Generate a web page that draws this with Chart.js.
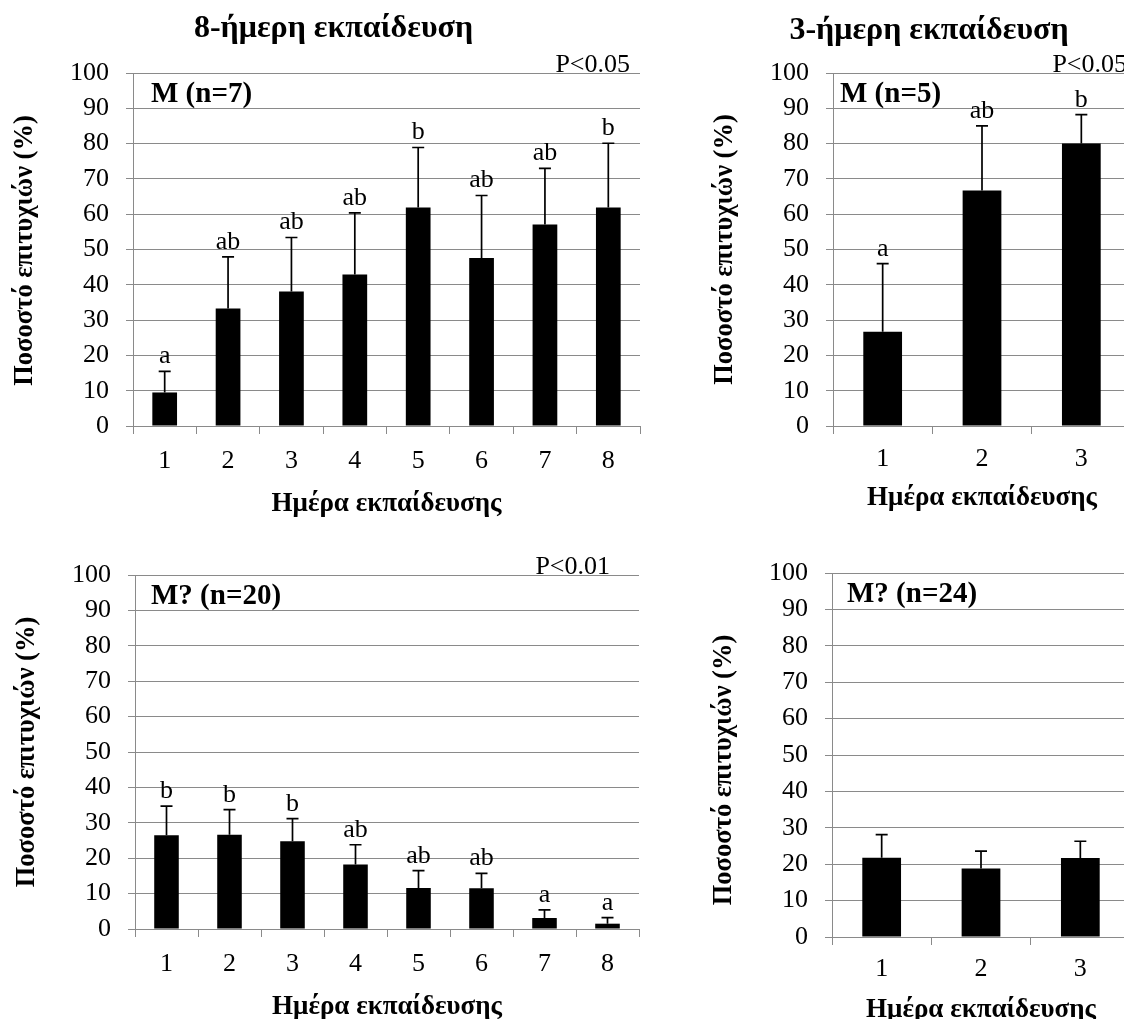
<!DOCTYPE html>
<html>
<head>
<meta charset="utf-8">
<script src="https://cdn.jsdelivr.net/npm/chart.js@4.4.1/dist/chart.umd.min.js"></script>
<style>
  html, body { margin: 0; padding: 0; background: #fff; overflow: hidden; width: 1124px; height: 1019px; }
  canvas { position: absolute; }
</style>
</head>
<body>
<canvas id="c8m"  width="680" height="530" style="left:0;top:0"></canvas>
<canvas id="c3m"  width="470" height="530" style="left:680px;top:0"></canvas>
<canvas id="c8q"  width="680" height="489" style="left:0;top:530px"></canvas>
<canvas id="c3q"  width="470" height="489" style="left:680px;top:530px"></canvas>
<script>
/* ── Data ─────────────────────────────────────────────────── */
const days8 = ['1', '2', '3', '4', '5', '6', '7', '8'];
const days3 = ['1', '2', '3'];
const yTicks = [0, 10, 20, 30, 40, 50, 60, 70, 80, 90, 100];

const m8Mean    = [9.5, 33.3, 38.1, 42.9, 61.9, 47.6, 57.1, 61.9];
const m8Sd      = [6.0, 14.6, 15.3, 17.5, 17.0, 17.7, 15.9, 18.2];
const m8Letters = ['a', 'ab', 'ab', 'ab', 'b', 'ab', 'ab', 'b'];

const m3Mean    = [26.7, 66.7, 80.0];
const m3Sd      = [19.3, 18.3, 8.2];
const m3Letters = ['a', 'ab', 'b'];

const q8Mean    = [26.5, 26.6, 24.8, 18.2, 11.6, 11.5, 3.1, 1.5];
const q8Sd      = [8.2, 7.1, 6.4, 5.6, 4.9, 4.2, 2.3, 1.7];
const q8Letters = ['b', 'b', 'b', 'ab', 'ab', 'ab', 'a', 'a'];

const q3Mean    = [21.8, 18.8, 21.7];
const q3Sd      = [6.3, 4.8, 4.6];

const yTitle = 'Ποσοστό επιτυχιών (%)';
const xTitle = 'Ημέρα εκπαίδευσης';

const FONT = '"Liberation Serif", "Times New Roman", serif';
const GRID = '#8a8a8a';

/* ── Error bars, letters and all the loose text ───────────── */
const decorPlugin = {
  id: 'decor',
  afterDatasetsDraw(chart, args, o) {
    const { ctx, chartArea: a, scales: { x, y } } = chart;
    ctx.save();
    ctx.fillStyle = '#000';
    ctx.strokeStyle = '#000';
    ctx.lineWidth = 1.7;

    o.means.forEach((m, i) => {
      const px = x.getPixelForValue(i);
      const y0 = y.getPixelForValue(m);
      const y1 = y.getPixelForValue(m + o.sds[i]);
      ctx.beginPath();
      ctx.moveTo(px, y0); ctx.lineTo(px, y1);
      ctx.moveTo(px - 6, y1); ctx.lineTo(px + 6, y1);
      ctx.stroke();
      if (o.letters) {
        ctx.font = `26px ${FONT}`;
        ctx.textAlign = 'center';
        ctx.textBaseline = 'alphabetic';
        ctx.fillText(o.letters[i], px, y1 - 8);
      }
    });

    const cx = (a.left + a.right) / 2;
    ctx.textBaseline = 'alphabetic';

    if (o.title) {
      ctx.font = `bold 32px ${FONT}`;
      ctx.textAlign = 'center';
      ctx.fillText(o.title, cx - 53, o.titleY);
    }
    if (o.pText) {
      ctx.font = `26px ${FONT}`;
      ctx.textAlign = 'right';
      ctx.fillText(o.pText, o.pRight, a.top - 1);
    }

    ctx.font = `bold 29px ${FONT}`;
    ctx.textAlign = 'left';
    ctx.fillText(o.group, a.left + o.groupDx, a.top + 29);

    ctx.font = `bold 27px ${FONT}`;
    ctx.textAlign = 'center';
    ctx.fillText(xTitle, cx, a.bottom + o.xTitleDy);

    ctx.save();
    ctx.translate(a.left - 108, (a.top + a.bottom) / 2 + o.yTitleDy);
    ctx.rotate(-Math.PI / 2);
    ctx.textBaseline = 'middle';
    ctx.font = `bold 26.5px ${FONT}`;
    ctx.fillText(yTitle, 0, 0);
    ctx.restore();

    ctx.restore();
  }
};

function makePanel(id, p) {
  new Chart(document.getElementById(id), {
    type: 'bar',
    data: {
      labels: p.labels,
      datasets: [{
        data: p.means,
        backgroundColor: '#000',
        borderWidth: 0,
        categoryPercentage: 1,
        barPercentage: 0.39
      }]
    },
    options: {
      responsive: false,
      animation: false,
      layout: { padding: p.pad },
      plugins: {
        legend: { display: false },
        tooltip: { enabled: false },
        decor: p.decor
      },
      scales: {
        x: {
          afterFit(s) { s.height = 60; },
          grid: { offset: true, drawOnChartArea: false, color: GRID, tickLength: 8 },
          border: { color: GRID, width: 1 },
          ticks: { color: '#000', font: { family: FONT, size: 26 }, padding: p.xPad }
        },
        y: {
          min: 0,
          max: 100,
          afterFit(s) { s.width = p.yW; },
          afterBuildTicks(s) { s.ticks = yTicks.map(v => ({ value: v })); },
          grid: { color: GRID, tickLength: 7, lineWidth: 1 },
          border: { color: GRID, width: 1 },
          ticks: { color: '#000', font: { family: FONT, size: 26 }, padding: 17 }
        }
      }
    },
    plugins: [decorPlugin]
  });
}

makePanel('c8m', {
  labels: days8, means: m8Mean, yW: 133, xPad: 12,
  pad: { left: 0, top: 73, right: 40, bottom: 44 },
  decor: { means: m8Mean, sds: m8Sd, letters: m8Letters, group: 'M (n=7)', groupDx: 18,
           title: '8-ήμερη εκπαίδευση', titleY: 37, pText: 'P<0.05', pRight: 630,
           xTitleDy: 85, yTitleDy: 1 }
});

makePanel('c3m', {
  labels: days3, means: m3Mean, yW: 153, xPad: 10,
  pad: { left: 0, top: 73, right: 19, bottom: 44 },
  decor: { means: m3Mean, sds: m3Sd, letters: m3Letters, group: 'M (n=5)', groupDx: 7,
           title: '3-ήμερη εκπαίδευση', titleY: 39, pText: 'P<0.05', pRight: 1127 - 680,
           xTitleDy: 79, yTitleDy: 0 }
});

makePanel('c8q', {
  labels: days8, means: q8Mean, yW: 135, xPad: 12,
  pad: { left: 0, top: 45, right: 41, bottom: 30 },
  decor: { means: q8Mean, sds: q8Sd, letters: q8Letters, group: 'M? (n=20)', groupDx: 16,
           pText: 'P<0.01', pRight: 610, xTitleDy: 85, yTitleDy: 0 }
});

makePanel('c3q', {
  labels: days3, means: q3Mean, yW: 152, xPad: 9,
  pad: { left: 0, top: 43, right: 20, bottom: 22 },
  decor: { means: q3Mean, sds: q3Sd, group: 'M? (n=24)', groupDx: 15,
           xTitleDy: 80, yTitleDy: 15 }
});
</script>
</body>
</html>
